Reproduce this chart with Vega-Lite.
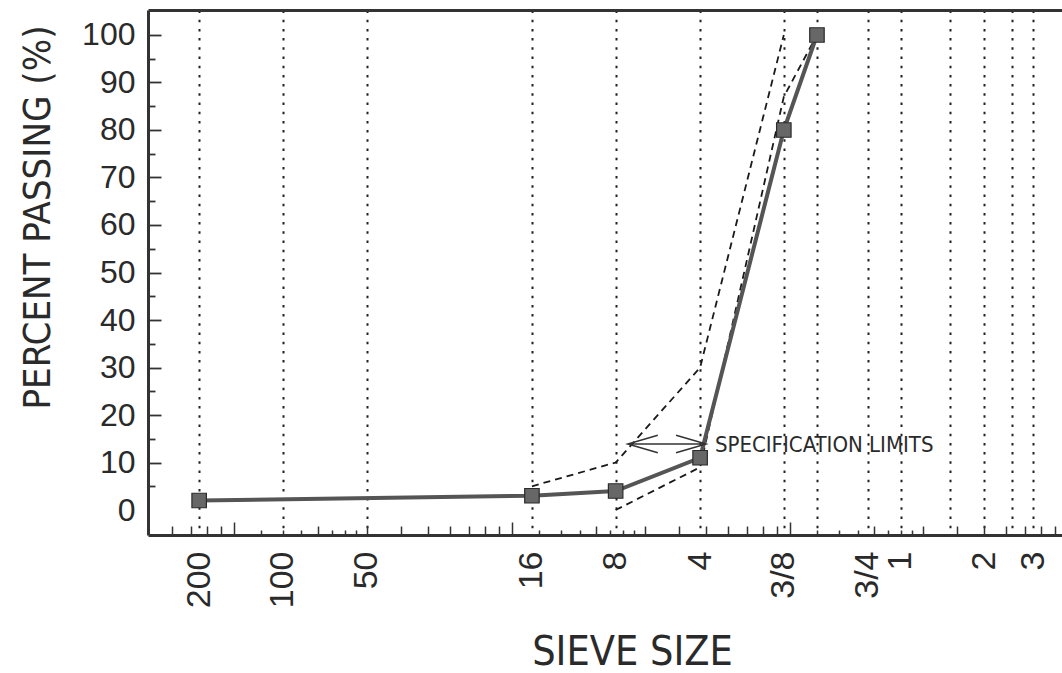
{
  "$schema": "https://vega.github.io/schema/vega-lite/v6.json",
  "width": 914,
  "height": 525,
  "autosize": {"type": "none"},
  "padding": {"left": 148, "top": 10, "right": 0, "bottom": 138},
  "background": "white",
  "config": {
    "view": {"stroke": null},
    "axis": {"domainColor": "#333", "tickColor": "#333", "labelColor": "#2a2a2a", "titleColor": "#2a2a2a", "titleFontWeight": "normal"}
  },
  "datasets": {
    "main": [
      {"sieve": 0.075, "pct": 2},
      {"sieve": 1.18, "pct": 3},
      {"sieve": 2.36, "pct": 4},
      {"sieve": 4.75, "pct": 11},
      {"sieve": 9.5, "pct": 80},
      {"sieve": 12.5, "pct": 100}
    ],
    "limits": [
      {"sieve": 1.18, "pct": 5, "limit": "upper"},
      {"sieve": 2.36, "pct": 10, "limit": "upper"},
      {"sieve": 4.75, "pct": 30, "limit": "upper"},
      {"sieve": 9.5, "pct": 100, "limit": "upper"},
      {"sieve": 2.36, "pct": 0, "limit": "lower"},
      {"sieve": 4.75, "pct": 9, "limit": "lower"},
      {"sieve": 9.5, "pct": 87, "limit": "lower"},
      {"sieve": 12.5, "pct": 100, "limit": "lower"}
    ],
    "arrow": [
      {"sieve": 2.61, "pct": 13.9, "end": "left"},
      {"sieve": 4.99, "pct": 13.9, "end": "right"}
    ],
    "note": [
      {"sieve": 5.37, "pct": 13.6, "label": "SPECIFICATION LIMITS"}
    ]
  },
  "resolve": {"axis": {"x": "independent", "y": "independent"}},
  "layer": [
    {
      "data": {"name": "limits"},
      "mark": {"type": "line", "stroke": "#1a1a1a", "strokeWidth": 1.8, "strokeDash": [7, 5]},
      "encoding": {
        "x": {"field": "sieve", "type": "quantitative",
          "scale": {"type": "log", "domain": [0.0491, 95.1], "nice": false},
          "axis": {"orient": "bottom", "values": [0.125, 0.15, 0.175, 0.225, 0.25, 0.275, 1.25, 1.5, 1.75, 2.25, 2.5, 2.75, 12.5, 15, 17.5, 22.5, 25, 27.5],
            "offset": -5, "tickSize": 5, "tickWidth": 1.5, "labels": false, "domain": false, "grid": false, "title": null}},
        "y": {"field": "pct", "type": "quantitative",
          "scale": {"domain": [-5.26, 105.26], "nice": false, "zero": false},
          "axis": {"orient": "left", "values": [5, 15, 25, 35, 45, 55, 65, 75, 85, 95],
            "offset": -7, "tickSize": 7, "tickWidth": 1.8, "labels": false, "domain": false, "grid": false, "title": null}},
        "detail": {"field": "limit"}
      }
    },
    {
      "data": {"name": "main"},
      "mark": {"type": "line", "stroke": "#555555", "strokeWidth": 4},
      "encoding": {
        "x": {"field": "sieve", "type": "quantitative",
          "axis": {"orient": "bottom", "values": [0.075, 0.15, 0.3, 1.18, 2.36, 4.75, 9.5, 12.5, 19, 25, 37.5, 50, 63, 75],
            "ticks": false, "grid": true, "gridDash": [2.5, 6.7], "gridWidth": 2, "gridColor": "#222",
            "domain": true, "domainWidth": 3,
            "labelExpr": "datum.value == 0.075 ? '200' : datum.value == 0.15 ? '100' : datum.value == 0.3 ? '50' : datum.value == 1.18 ? '16' : datum.value == 2.36 ? '8' : datum.value == 4.75 ? '4' : datum.value == 9.5 ? '3/8' : datum.value == 19 ? '3/4' : datum.value == 25 ? '1' : datum.value == 50 ? '2' : datum.value == 75 ? '3' : ''",
            "labelAngle": -90, "labelAlign": "right", "labelBaseline": "middle", "labelPadding": 16,
            "labelFont": "Liberation Sans", "labelFontSize": 34, "labelOverlap": false, "labelFlush": false, "labelBound": false,
            "title": "SIEVE SIZE", "titleFont": "'Liberation Sans Narrow', 'DejaVu Sans Condensed', 'Liberation Sans'", "titleFontSize": 41,
            "titleX": 484, "titleY": 129, "titleAlign": "center", "titleBaseline": "alphabetic", "titleAnchor": null}},
        "y": {"field": "pct", "type": "quantitative",
          "axis": {"orient": "left", "values": [0, 10, 20, 30, 40, 50, 60, 70, 80, 90, 100],
            "ticks": false, "grid": false, "domain": true, "domainWidth": 3,
            "labelPadding": 13, "labelFont": "Liberation Sans", "labelFontSize": 32, "labelOverlap": false, "labelFlush": false,
            "title": "PERCENT PASSING (%)", "titleFont": "'Liberation Sans Narrow', 'DejaVu Sans Condensed', 'Liberation Sans'", "titleFontSize": 38,
            "titleX": -110, "titleY": 207, "titleAngle": -90, "titleAlign": "center", "titleBaseline": "middle"}}
      }
    },
    {
      "data": {"name": "main"},
      "mark": {"type": "point", "shape": "square", "size": 210, "filled": true, "fill": "#676767", "stroke": "#2b2b2b", "strokeWidth": 1.2, "opacity": 1},
      "encoding": {
        "x": {"field": "sieve", "type": "quantitative",
          "axis": {"orient": "bottom", "values": [0.06, 0.07, 0.08, 0.09, 0.2, 0.3, 0.4, 0.5, 0.6, 0.7, 0.8, 0.9, 2, 3, 4, 5, 6, 7, 8, 9, 20, 30, 40, 50, 60, 70, 80, 90],
            "offset": -9, "tickSize": 9, "tickWidth": 1.5, "labels": false, "domain": false, "grid": false, "title": null}},
        "y": {"field": "pct", "type": "quantitative",
          "axis": {"orient": "left", "values": [10, 20, 30, 40, 50, 60, 70, 80, 90, 100],
            "offset": -13, "tickSize": 13, "tickWidth": 1.8, "labels": false, "domain": false, "grid": false, "title": null}}
      }
    },
    {
      "data": {"name": "arrow"},
      "mark": {"type": "line", "stroke": "#333", "strokeWidth": 1.5},
      "encoding": {
        "x": {"field": "sieve", "type": "quantitative",
          "axis": {"orient": "bottom", "values": [0.1, 1, 10],
            "offset": -13, "tickSize": 13, "tickWidth": 1.5, "labels": false, "domain": false, "grid": false, "title": null}},
        "y": {"field": "pct", "type": "quantitative", "axis": null}
      }
    },
    {
      "data": {"name": "arrow"},
      "mark": {"type": "point", "filled": false, "stroke": "#333", "strokeWidth": 1.5, "size": 625, "opacity": 1},
      "encoding": {
        "x": {"field": "sieve", "type": "quantitative",
          "axis": {"orient": "top", "ticks": false, "labels": false, "grid": false, "domain": true, "domainWidth": 3, "title": null}},
        "y": {"field": "pct", "type": "quantitative", "axis": null},
        "shape": {"field": "end", "type": "nominal", "legend": null,
          "scale": {"domain": ["left", "right"], "range": ["M2.4,-0.7L0,0L2.4,0.7", "M-2.4,-0.7L0,0L-2.4,0.7"]}}
      }
    },
    {
      "data": {"name": "note"},
      "mark": {"type": "text", "align": "left", "baseline": "middle", "font": "'Liberation Sans Narrow', 'DejaVu Sans Condensed', 'Liberation Sans'", "fontSize": 22, "fill": "#2a2a2a"},
      "encoding": {
        "x": {"field": "sieve", "type": "quantitative", "axis": null},
        "y": {"field": "pct", "type": "quantitative", "axis": null},
        "text": {"field": "label"}
      }
    }
  ]
}
